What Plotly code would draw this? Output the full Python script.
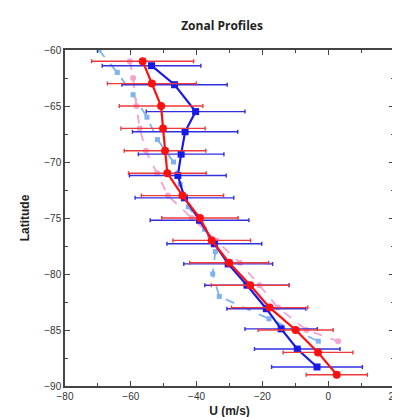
import plotly.graph_objects as go

# Red series (circles, solid, with error bars)
red_lat = [-61, -63, -65, -67, -69, -71, -73, -75, -77, -79, -81, -83, -85, -87, -89]
red_u = [-56.4, -53.6, -50.8, -50.2, -49.6, -48.9, -44.3, -39.0, -35.4, -30.1, -23.7, -17.8, -9.9, -3.1, 2.6]
red_err = [15.5, 13.5, 12.7, 12.8, 12.4, 11.8, 12.5, 11.6, 11.8, 12.0, 11.8, 11.6, 11.4, 10.6, 9.3]

# Blue series (squares, solid, with error bars)
blue_lat = [-61.4, -63.1, -65.5, -67.3, -69.3, -71.2, -73.2, -75.2, -77.3, -79.1, -81.0, -83.1, -84.9, -86.7, -88.3]
blue_u = [-53.7, -46.7, -40.3, -43.5, -44.7, -45.7, -43.7, -39.1, -34.6, -30.4, -24.7, -18.8, -14.3, -9.4, -3.4]
blue_err = [15.0, 16.0, 15.0, 16.0, 13.0, 14.7, 15.0, 15.0, 14.4, 13.5, 12.8, 12.0, 11.0, 13.0, 13.8]

# Light blue dashed series
lblue_lat = [-60, -62, -64, -66, -68, -70, -72, -74, -76, -78, -80, -82, -84, -86]
lblue_u = [-69.7, -64.1, -59.3, -55.1, -51.9, -47.0, -45.0, -42.5, -37.6, -34.3, -35.1, -33.1, -18.0, -3.0]

# Pink dashed series
pink_lat = [-61, -62.5, -65, -67, -69, -71, -73, -75, -77, -79, -81, -83, -85, -86]
pink_u = [-60.3, -59.3, -58.3, -57.3, -55.4, -52.0, -48.7, -41.5, -34.0, -26.9, -20.9, -15.3, -6.6, 3.0]

x_ticks = [-80, -60, -40, -20, 0, 20]
y_ticks = [-60, -65, -70, -75, -80, -85, -90]

fig = go.Figure()
fig.add_trace(go.Scatter(x=lblue_u, y=lblue_lat, mode="lines+markers",
                         line=dict(color="#7eb2f0", width=1.8, dash="dash"),
                         marker=dict(symbol="square", size=5, color="#7eb2f0")))
fig.add_trace(go.Scatter(x=pink_u, y=pink_lat, mode="lines+markers",
                         line=dict(color="#f5a3cf", width=1.8, dash="dash"),
                         marker=dict(symbol="circle", size=6, color="#f5a3cf")))
fig.add_trace(go.Scatter(x=blue_u, y=blue_lat, mode="lines+markers",
                         line=dict(color="#1a1ae6", width=2.2),
                         marker=dict(symbol="square", size=7, color="#1a1ae6"),
                         error_x=dict(type="data", array=blue_err, color="#3030e0",
                                      thickness=1.4, width=2)))
fig.add_trace(go.Scatter(x=red_u, y=red_lat, mode="lines+markers",
                         line=dict(color="#ff1010", width=2.2),
                         marker=dict(symbol="circle", size=8, color="#ff1010"),
                         error_x=dict(type="data", array=red_err, color="#ee3a3a",
                                      thickness=1.4, width=2)))

axis_common = dict(showgrid=False, zeroline=False, showline=True, linecolor="#444",
                   linewidth=1.5, mirror="allticks", ticks="inside", ticklen=5,
                   tickcolor="#444", tickwidth=1.2,
                   tickfont=dict(family="Arial, Liberation Sans", size=10, color="#333"))
fig.update_xaxes(range=[-80, 20], tickvals=x_ticks,
                 minor=dict(dtick=10, ticks="inside", ticklen=3, tickcolor="#444"),
                 title=dict(text="<b>U (m/s)</b>", font=dict(family="Arial, Liberation Sans", size=12, color="#222"), standoff=6),
                 **axis_common)
fig.update_yaxes(range=[-90, -60], tickvals=y_ticks,
                 minor=dict(dtick=2.5, ticks="inside", ticklen=3, tickcolor="#444"),
                 title=dict(text="<b>Latitude</b>", font=dict(family="Arial, Liberation Sans", size=12, color="#222"), standoff=12),
                 **axis_common)
fig.update_layout(width=400, height=417, showlegend=False,
                  plot_bgcolor="white", paper_bgcolor="white",
                  margin=dict(l=57, r=8, t=42, b=39),
                  title=dict(text="<b>Zonal Profiles</b>", x=0.535, xanchor="center", y=0.958, yanchor="middle",
                             font=dict(family="Open Sans, Arial", size=12, color="#222")))
fig.write_html("out.html")
